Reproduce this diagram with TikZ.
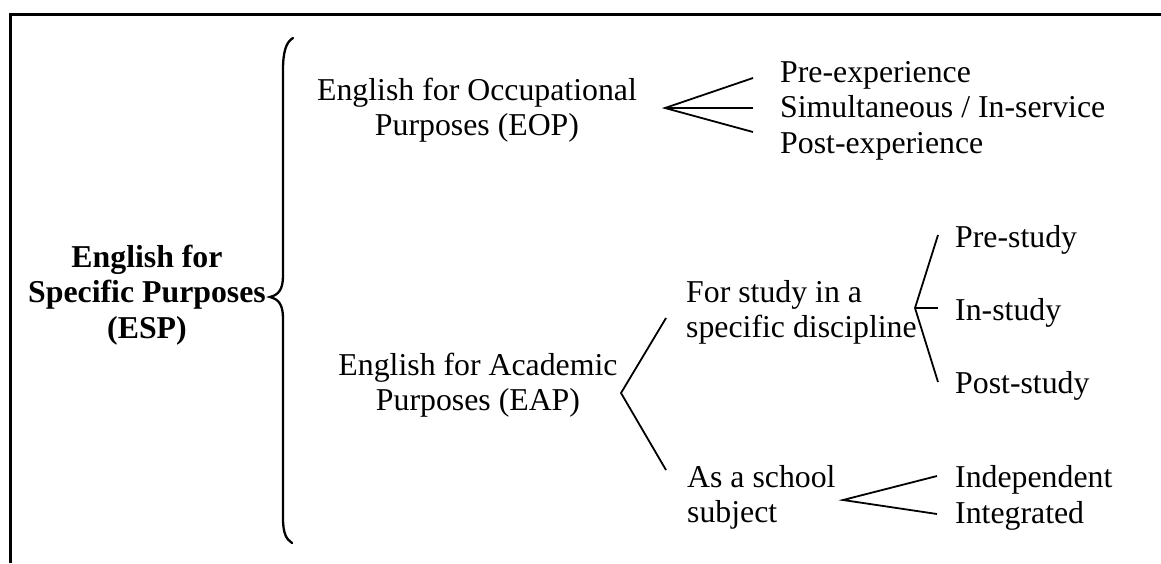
\documentclass[tikz,border=0pt]{standalone}
\usepackage{fontspec}
\setmainfont{Liberation Serif}
\begin{document}
\begin{tikzpicture}[x=1pt,y=-1pt,
  lbl/.style={inner sep=0pt, anchor=base west, font=\fontsize{31.8}{35.5}\selectfont},
  clbl/.style={lbl, anchor=base},
  fan/.style={line width=1.8pt, line cap=butt},
  bracestroke/.style={line width=2.3pt, line cap=round},
  frameline/.style={line width=3pt, line join=miter}]
\useasboundingbox (0,0) rectangle (1161,563);

% frame corner
\draw[frameline] (10,563) -- (10,14.5) -- (1161,14.5);

% root label
\node[clbl] (esp) at (147,267)
  {\bfseries\begin{tabular}[t]{@{}c@{}}English for\\Specific Purposes\\(ESP)\end{tabular}};

% curly brace
\coordinate (brTop) at (293,38);
\coordinate (brTip) at (270,297);
\coordinate (brBot) at (292,543);
\draw[bracestroke] (brTop) .. controls (286,42) and (283,52) .. (283,70) -- (283,276)
  .. controls (283,290) and (278,295) .. (brTip)
  .. controls (278,299) and (283,304) .. (283,318) -- (283,518)
  .. controls (283,533) and (286,539) .. (brBot);

% occupational branch
\node[clbl] (eop) at (477,100)
  {\begin{tabular}[t]{@{}c@{}}English for Occupational\\Purposes (EOP)\end{tabular}};
\node[lbl] (eopI) at (780,82)
  {\begin{tabular}[t]{@{}l@{}}Pre-experience\\Simultaneous / In-service\\Post-experience\end{tabular}};
\coordinate (eopA) at (665,108);
\coordinate (eop1) at (753,78);
\coordinate (eop2) at (753,108);
\coordinate (eop3) at (753,132);
\draw[fan] (eop1) -- (eopA) -- (eop3);
\draw[fan] (eopA) -- (eop2);

% academic branch
\node[clbl] (eap) at (478,375)
  {\begin{tabular}[t]{@{}c@{}}English for Academic\\Purposes (EAP)\end{tabular}};
\coordinate (eapA) at (621,393);
\coordinate (eap1) at (666,318);
\coordinate (eap2) at (666,470);
\draw[fan] (eap1) -- (eapA) -- (eap2);

% specific discipline
\node[lbl] (disc) at (686,302)
  {\begin{tabular}[t]{@{}l@{}}For study in a\\specific discipline\end{tabular}};
\node[lbl] (pre) at (955,247) {Pre-study};
\node[lbl] (in) at (955,320) {In-study};
\node[lbl] (post) at (955,393) {Post-study};
\coordinate (discA) at (915,308);
\coordinate (disc1) at (938,235);
\coordinate (disc2) at (938,308);
\coordinate (disc3) at (938,382);
\draw[fan] (disc1) -- (discA) -- (disc3);
\draw[fan] (discA) -- (disc2);

% school subject
\node[lbl] (school) at (687,487)
  {\begin{tabular}[t]{@{}l@{}}As a school\\subject\end{tabular}};
\node[lbl] (indep) at (955,487) {Independent};
\node[lbl] (integ) at (955,523) {Integrated};
\coordinate (schA) at (843,500);
\coordinate (sch1) at (937,476);
\coordinate (sch2) at (937,514);
\draw[fan] (sch1) -- (schA) -- (sch2);
\end{tikzpicture}
\end{document}
